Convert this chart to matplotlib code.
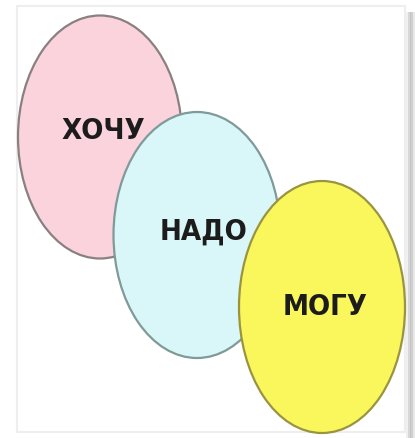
import matplotlib.pyplot as plt
from matplotlib.patches import Ellipse, Rectangle

# three ovals, coordinates in picture pixels (y down)
labels = ["ХОЧУ", "НАДО", "МОГУ"]
center_x = [100, 197, 322]
center_y = [137, 235, 307]
widths = [164, 167, 166]
heights = [243, 246, 252]
text_x = [103, 203, 325]
text_y = [131, 232, 307]
fills = ["#fbd3dc", "#d9f7f9", "#f9f75c"]
edges = ["#8a8080", "#7f9a98", "#9a9440"]

fig = plt.figure(figsize=(4.15, 4.38), dpi=100)
ax = fig.add_axes([0, 0, 1, 1])
ax.set_xlim(0, 415)
ax.set_ylim(438, 0)
ax.axis('off')

# faint frame and right-side shadow of the original slide
ax.add_patch(Rectangle((17, 6), 388, 426, fill=False, edgecolor="#eeeeee", linewidth=1.5))
for i, c in enumerate(["#f0f0f0", "#d8d8d8", "#c4c4c4", "#d0d0d0", "#e8e8e8"]):
    ax.add_patch(Rectangle((406 + i * 1.8, 12), 1.8, 426, color=c, linewidth=0))

for i in range(len(labels)):
    ax.add_patch(Ellipse((center_x[i], center_y[i]), widths[i], heights[i],
                         facecolor=fills[i], edgecolor=edges[i], linewidth=1.6, zorder=2 + i))
    ax.text(text_x[i], text_y[i], labels[i], ha='center', va='center',
            fontsize=21, fontweight='bold', family='DejaVu Sans', fontstretch='condensed',
            color="#1c1c1c", zorder=10)

fig.savefig("out.png", dpi=100)
